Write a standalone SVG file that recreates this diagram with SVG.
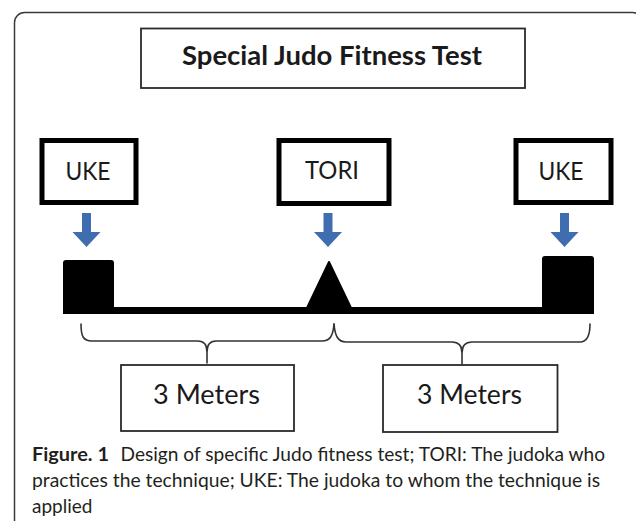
<svg xmlns="http://www.w3.org/2000/svg" width="636" height="521" viewBox="0 0 636 521">
<style>
.frame{fill:none;stroke:#3a3a3a;stroke-width:1.5}
.box{fill:#fff;stroke:#2a2a2a;stroke-width:1.8}
.tbox{fill:#fff;stroke:#000;stroke-width:5}
.lbl{font-family:Lato,"Liberation Sans",sans-serif;fill:#1a1a1a;text-anchor:middle}
.arrow{fill:#3F6EB0}
.brace{fill:none;stroke:#333;stroke-width:1.6;stroke-linecap:round}
.cap{font-family:Lato,"Liberation Sans",sans-serif;font-size:19px;fill:#231f20}
</style>
<rect x="14.5" y="12.5" width="628" height="530" rx="10" class="frame"/>
<g id="title">
<rect x="141" y="28.5" width="384" height="59.5" class="box"/>
<text x="332" y="65" class="lbl" font-size="26" font-weight="bold" textLength="300" lengthAdjust="spacingAndGlyphs">Special Judo Fitness Test</text>
</g>
<g id="uke-left">
<rect x="42" y="140.5" width="94" height="62" class="tbox"/>
<text x="88" y="179.5" class="lbl" font-size="25" textLength="45" lengthAdjust="spacingAndGlyphs">UKE</text>
</g>
<g id="tori">
<rect x="279" y="140.5" width="110" height="63" class="tbox"/>
<text x="332" y="178.5" class="lbl" font-size="25" textLength="54" lengthAdjust="spacingAndGlyphs">TORI</text>
</g>
<g id="uke-right">
<rect x="516" y="140.5" width="95" height="62" class="tbox"/>
<text x="561" y="180" class="lbl" font-size="25" textLength="45" lengthAdjust="spacingAndGlyphs">UKE</text>
</g>
<g id="connectors">
<path class="arrow" d="M82,213 H91 V232 H100.5 L86.5,247 L72.5,232 H82 Z"/>
<path class="arrow" d="M323.5,213 H332.5 V232 H342 L328,247 L314,232 H323.5 Z"/>
<path class="arrow" d="M560,213 H569 V232 H578.5 L564.5,247 L550.5,232 H560 Z"/>
<path class="brace" d="M81,324 C81,336 83,341 92,341 L198,341 C204,341 207,344 207,352 L207,363 M207,352 C207,344 210,341 216,341 L322,341 C330,341 333,336 334,324"/>
<path class="brace" d="M334,324 C335,336 338,342 346,342 L452,342 C458,342 462,345 462,353 L462,364 M462,353 C462,345 466,342 472,342 L580,342 C587,342 590,336 590,324"/>
</g>
<g id="track">
<rect x="63" y="307" width="531" height="7" fill="#000"/>
<rect x="63" y="260" width="51" height="53" rx="3" fill="#000"/>
<rect x="542" y="256" width="52" height="57" rx="3" fill="#000"/>
<path d="M329,262 L352,310 L306,310 Z" fill="#000" stroke="#000" stroke-width="2" stroke-linejoin="round"/>
</g>
<g id="meters-left">
<rect x="121" y="365" width="173" height="66" class="box"/>
<text x="206.5" y="403.5" class="lbl" font-size="26" textLength="107" lengthAdjust="spacingAndGlyphs">3 Meters</text>
</g>
<g id="meters-right">
<rect x="383" y="365" width="174.5" height="67" class="box"/>
<text x="469.5" y="404" class="lbl" font-size="26" textLength="105" lengthAdjust="spacingAndGlyphs">3 Meters</text>
</g>
<g id="caption">
<text x="32" y="461" class="cap" font-weight="bold" textLength="77" lengthAdjust="spacingAndGlyphs">Figure. 1</text>
<text x="120.5" y="461" class="cap" textLength="484.5" lengthAdjust="spacingAndGlyphs">Design of specific Judo fitness test; TORI: The judoka who</text>
<text x="32" y="487" class="cap" textLength="568" lengthAdjust="spacingAndGlyphs">practices the technique; UKE: The judoka to whom the technique is</text>
<text x="32" y="513" class="cap">applied</text>
</g>
</svg>
